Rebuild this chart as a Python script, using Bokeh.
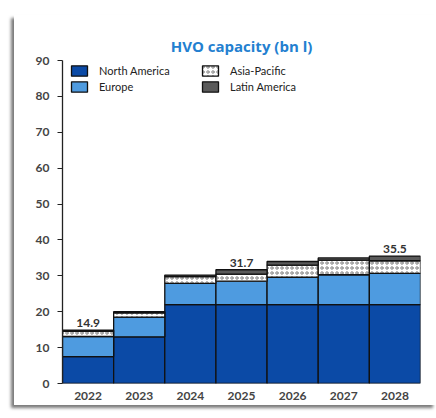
from bokeh.plotting import figure
from bokeh.models import FactorRange, Range1d, Legend, LegendItem, ColumnDataSource, FixedTicker
from bokeh.core.properties import value
from bokeh.embed import file_html
from bokeh.resources import INLINE

years = ["2022", "2023", "2024", "2025", "2026", "2027", "2028"]
north_america = [7.5, 13.0, 22.0, 22.0, 22.0, 22.0, 22.0]
europe = [5.6, 5.5, 5.9, 6.5, 7.6, 8.3, 8.7]
asia_pacific = [1.4, 1.2, 1.9, 2.0, 3.4, 4.1, 3.5]
latin_america = [0.4, 0.3, 0.4, 1.2, 1.0, 0.6, 1.3]
label_years = ["2022", "2025", "2028"]
label_texts = ["14.9", "31.7", "35.5"]
y_ticks = [0, 10, 20, 30, 40, 50, 60, 70, 80, 90]

series = ["North America", "Europe", "Asia-Pacific", "Latin America"]
fills = ["#0b4aa6", "#4e9be0", "#ffffff", "#5a5a5a"]
hatches = [" ", " ", "o", " "]

src = ColumnDataSource(dict(year=years, **{
    "North America": north_america,
    "Europe": europe,
    "Asia-Pacific": asia_pacific,
    "Latin America": latin_america,
}))

FONT = "Lato"
FRAME_H = 323

p = figure(x_range=FactorRange(*years, range_padding=0), y_range=Range1d(0, 90),
           width=422, height=390, output_backend="svg", toolbar_location=None,
           min_border_left=48, min_border_right=16, min_border_top=45, min_border_bottom=22)
p.styles = {"margin-left": "14px", "margin-top": "15px",
            "box-shadow": "-3px 3px 3px #7a7a7a"}

renderers = p.vbar_stack(series, x="year", width=1.0, source=src,
                         fill_color=fills, line_color="#111111", line_width=1.3,
                         hatch_pattern=hatches, hatch_color="#666666",
                         hatch_scale=5, hatch_weight=0.8)

totals = [round(a + b + c + d, 1) for a, b, c, d in zip(north_america, europe, asia_pacific, latin_america)]
lab_src = ColumnDataSource(dict(x=label_years,
                                y=[totals[years.index(yv)] for yv in label_years],
                                t=label_texts))
p.text(x="x", y="y", text="t", source=lab_src, text_align="center",
       text_baseline="bottom", y_offset=-3, text_font=value(FONT),
       text_font_size="12px", text_color="#333333", text_font_style="bold")

items = [LegendItem(label=series[0], renderers=[renderers[0]]),
         LegendItem(label=series[1], renderers=[renderers[1]]),
         LegendItem(label=series[2], renderers=[renderers[2]]),
         LegendItem(label=series[3], renderers=[renderers[3]])]
legend = Legend(items=items, location=(7, FRAME_H - 33), ncols=2,
                background_fill_alpha=0, border_line_color=None,
                label_text_font=FONT, label_text_font_size="11px",
                label_text_color="#222222", glyph_width=20, glyph_height=13,
                label_standoff=10, spacing=3, padding=3, margin=0,
                label_height=13, label_width=98)
p.add_layout(legend)

p.title.text = "HVO capacity (bn l)"
p.title.align = "center"
p.title.text_font = "Open Sans"
p.title.text_font_size = "15px"
p.title.text_color = "#2380d0"
p.title.text_font_style = "bold"

p.grid.grid_line_color = None
p.outline_line_color = None

p.yaxis.ticker = FixedTicker(ticks=y_ticks)
p.yaxis.axis_line_color = "#222222"
p.yaxis.axis_line_width = 1.3
p.yaxis.major_tick_line_color = "#222222"
p.yaxis.major_tick_out = 5
p.yaxis.major_tick_in = 0
p.yaxis.minor_tick_line_color = None
p.yaxis.major_label_standoff = 8
p.yaxis.major_label_text_font = FONT
p.yaxis.major_label_text_font_size = "12px"
p.yaxis.major_label_text_font_style = "bold"
p.yaxis.major_label_text_color = "#444444"

p.xaxis.axis_line_color = None
p.xaxis.major_tick_line_color = None
p.xaxis.major_label_standoff = 2
p.xaxis.major_label_text_font = FONT
p.xaxis.major_label_text_font_size = "12px"
p.xaxis.major_label_text_font_style = "bold"
p.xaxis.major_label_text_color = "#444444"

open("out.html", "w").write(file_html(p, INLINE))
